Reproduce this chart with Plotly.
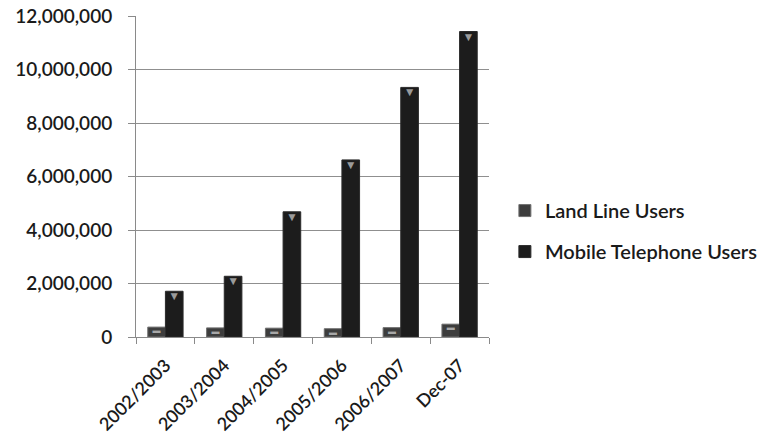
import plotly.graph_objects as go

# Subscriber counts per period
periods = ["2002/2003", "2003/2004", "2004/2005", "2005/2006", "2006/2007", "Dec-07"]
land_line_users = [370000, 340000, 330000, 310000, 350000, 480000]
mobile_users = [1710000, 2270000, 4680000, 6620000, 9330000, 11420000]
y_ticks = [0, 2000000, 4000000, 6000000, 8000000, 10000000, 12000000]

FONT = "Lato, 'Open Sans', sans-serif"
TEXT_COLOR = "#1a1a1a"

fig = go.Figure()
fig.add_trace(go.Bar(
    x=periods, y=land_line_users, name="Land Line Users",
    offsetgroup="land", legendgroup="land",
    marker=dict(color="#3d3d3d", line=dict(color="#707070", width=1)),
    hoverinfo="x+y",
))
fig.add_trace(go.Bar(
    x=periods, y=mobile_users, name="Mobile Telephone Users",
    offsetgroup="mobile", legendgroup="mobile",
    marker=dict(color="#1c1c1c", line=dict(color="#2a2a2a", width=1)),
    hoverinfo="x+y",
))
# small bevel glyphs just under the top of each bar
fig.add_trace(go.Scatter(
    x=periods, y=land_line_users, mode="text", offsetgroup="land",
    text=["▬"] * len(periods), textposition="bottom center",
    textfont=dict(color="#a8a8a8", size=8),
    showlegend=False, hoverinfo="skip", cliponaxis=False,
))
fig.add_trace(go.Scatter(
    x=periods, y=mobile_users, mode="text", offsetgroup="mobile",
    text=["▼"] * len(periods), textposition="bottom center",
    textfont=dict(color="#9a9a9a", size=12),
    showlegend=False, hoverinfo="skip", cliponaxis=False,
))

fig.update_layout(
    width=765, height=447,
    margin=dict(l=136, r=276, t=16, b=110, autoexpand=False),
    paper_bgcolor="white", plot_bgcolor="white",
    barmode="group", bargap=0.4, bargroupgap=0.0,
    scattermode="group", scattergap=0.4,
    font=dict(family=FONT, size=19, color=TEXT_COLOR, weight=600),
    showlegend=True,
    legend=dict(
        x=1.045, xanchor="left", y=0.33, yanchor="middle",
        font=dict(family=FONT, size=20, color=TEXT_COLOR, weight=600),
        traceorder="grouped", tracegroupgap=12,
        itemwidth=30, bgcolor="rgba(0,0,0,0)",
    ),
)
fig.update_xaxes(
    type="category", tickangle=-45, automargin=False,
    showline=True, linecolor="#8a8a8a", linewidth=1,
    ticks="outside", ticklen=6, tickcolor="#8a8a8a", tickson="boundaries",
    ticklabelstandoff=10,
    showgrid=False, tickfont=dict(family=FONT, size=18, color=TEXT_COLOR, weight=600),
)
fig.update_yaxes(
    range=[0, 12000000], tickvals=y_ticks, tickformat=",d", automargin=False,
    showline=True, linecolor="#8a8a8a", linewidth=1,
    ticks="outside", ticklen=7, tickcolor="#8a8a8a",
    ticklabelstandoff=12,
    showgrid=True, gridcolor="#8f8f8f", gridwidth=1,
    zeroline=False,
    tickfont=dict(family=FONT, size=19, color=TEXT_COLOR, weight=600),
)

fig.write_html("out.html")
